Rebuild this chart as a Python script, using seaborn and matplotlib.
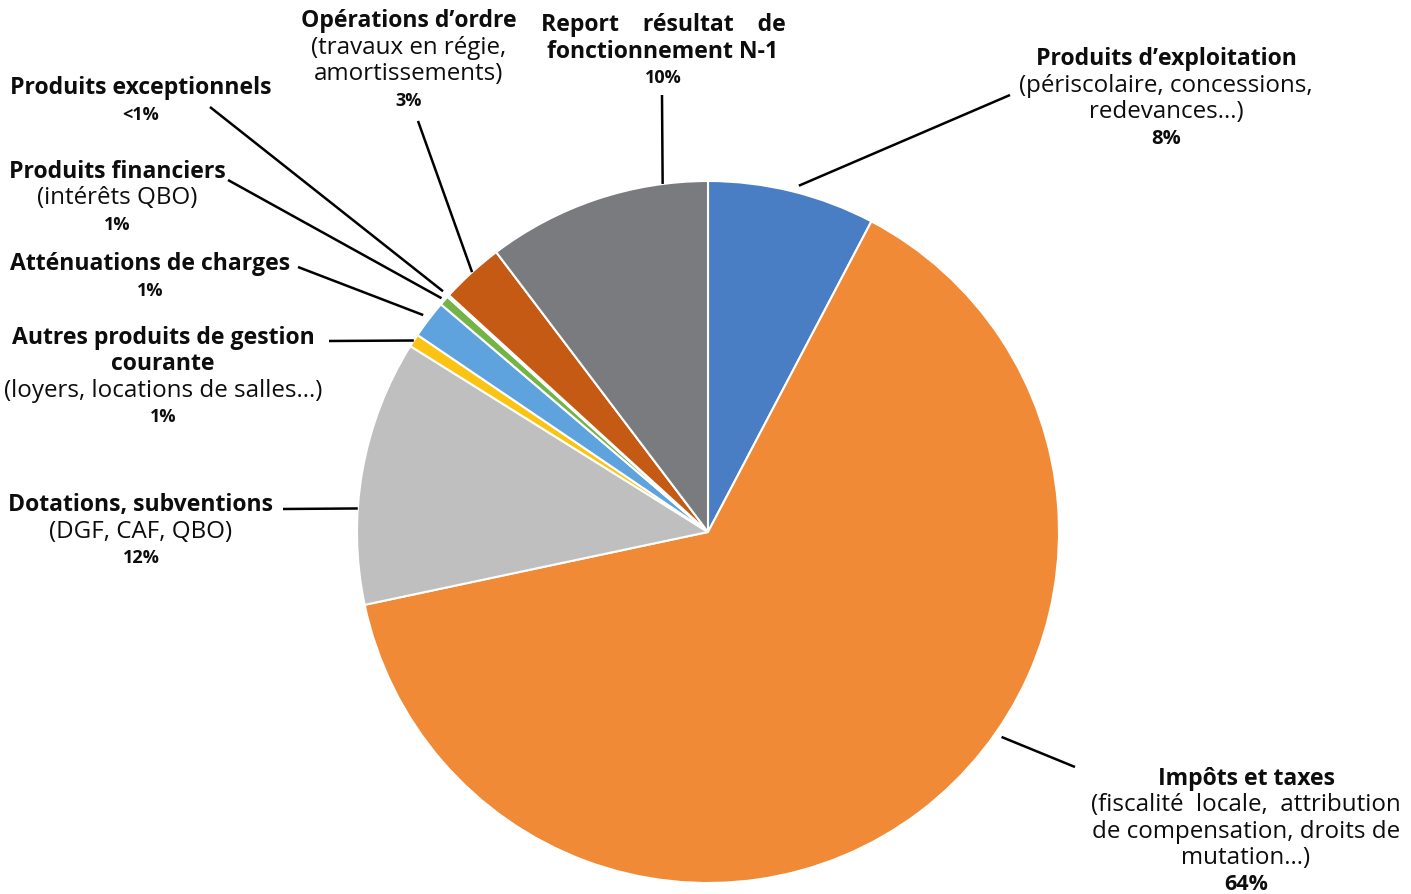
import numpy as np
import seaborn as sns
import matplotlib.pyplot as plt

# --- data (clockwise from 12 o'clock) ---
categories = ["Produits d’exploitation", "Impôts et taxes", "Dotations, subventions",
              "Autres produits de gestion courante", "Atténuations de charges",
              "Produits financiers", "Produits exceptionnels", "Opérations d’ordre",
              "Report résultat de fonctionnement N-1"]
shares = [7.7, 63.9, 12.2, 0.6, 1.75, 0.45, 0.1, 2.9, 10.3]
pct_labels = ["8%", "64%", "12%", "1%", "1%", "1%", "<1%", "3%", "10%"]
titles = ["Produits d’exploitation", "Impôts et taxes", "Dotations, subventions",
          "Autres produits de gestion\ncourante", "Atténuations de charges",
          "Produits financiers", "Produits exceptionnels", "Opérations d’ordre",
          "Report    résultat    de\nfonctionnement N-1"]
details = ["(périscolaire, concessions,\nredevances…)",
           "(fiscalité  locale,  attribution\nde compensation, droits de\nmutation…)",
           "(DGF, CAF, QBO)", "(loyers, locations de salles…)", "",
           "(intérêts QBO)", "", "(travaux en régie,\namortissements)", ""]
colors = ["#4a7ec4", "#f08a36", "#bfbfbf", "#fbc413", "#5fa3de",
          "#74b446", "#264478", "#c45a14", "#797b7e"]

# --- label layout (pixel coords, y from top) ---
# x center, first line y, leader start, position in wedge, radius factor, pct size
layout = [
    (1166, 59, (1010, 96), 0.47, 1.02, 14.5),
    (1246, 779, (1075, 768), 0.578, 1.02, 15.5),
    (141, 505, (283, 510), 0.64, 1.0, 13),
    (163, 338, (329, 342), 0.5, 1.0, 13),
    (150, 264, (298, 268), 0.5, 1.02, 13),
    (117, 172, (228, 181), 0.5, 1.01, 13),
    (141, 88, (210, 108), 0.5, 1.02, 13),
    (409, 21, (418, 122), 0.49, 1.0, 13),
    (663, 25, (662, 96), 0.2, 1.0, 13),
]

W, H = 1411, 895
cx, cy, R = 708, H - 533, 351
lh = 26.5
fs_bold = 16.6
fs_reg = 17.4

sns.set_theme(style="white")
plt.rcParams['font.family'] = ['Open Sans', 'DejaVu Sans']

fig = plt.figure(figsize=(W / 100, H / 100), dpi=100)
ax = fig.add_axes([0, 0, 1, 1])

palette = sns.color_palette(colors)
wedges, _ = ax.pie(shares, colors=palette, startangle=90, counterclock=False,
                   center=(cx, cy), radius=R, frame=True,
                   wedgeprops=dict(edgecolor='white', linewidth=1.5))
ax.set_xlim(0, W)
ax.set_ylim(0, H)
ax.set_aspect('equal')
ax.axis('off')

for i, w in enumerate(wedges):
    x, y0, start, f, rf, pfs = layout[i]
    lines = [(t, 'bold', fs_bold) for t in titles[i].split("\n")]
    if details[i]:
        lines += [(t, 'normal', fs_reg) for t in details[i].split("\n")]
    lines.append((pct_labels[i], 'bold', pfs))
    for k, (txt, wt, fs) in enumerate(lines):
        ax.text(x, H - (y0 + k * lh), txt, ha='center', va='center',
                fontsize=fs, fontweight=wt, color='#0d0d0d')

    # leader line from the label to the edge of its slice
    theta = np.deg2rad(w.theta1 + f * (w.theta2 - w.theta1))
    ex = cx + R * rf * np.cos(theta)
    ey = cy + R * rf * np.sin(theta)
    ax.plot([start[0], ex], [H - start[1], ey], color='black', lw=1.8,
            solid_capstyle='butt')

fig.savefig("out.png", dpi=100, facecolor='white')
